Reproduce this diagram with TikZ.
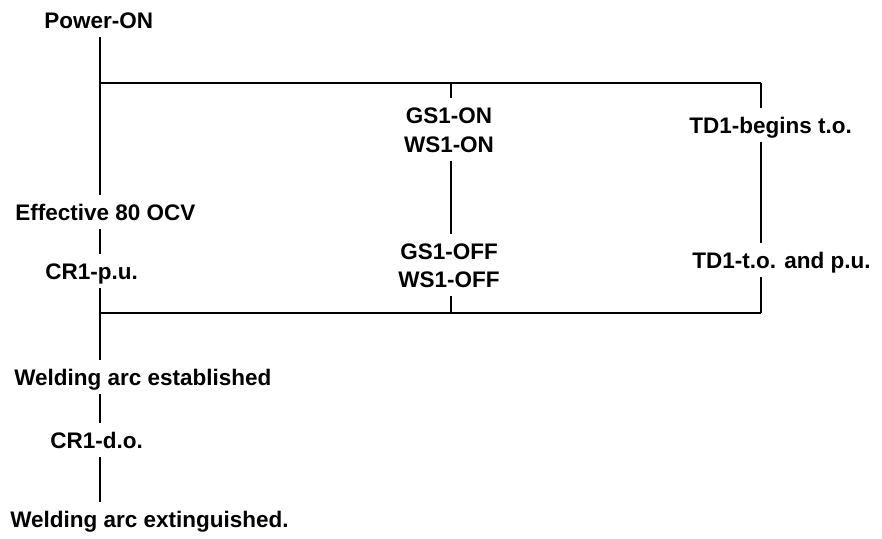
\documentclass[tikz,border=0pt]{standalone}
\usepackage{fontspec}
\setmainfont{Liberation Sans}
\begin{document}
\begin{tikzpicture}[x=0.02cm,y=-0.02cm,
  lbl/.style={font=\fontsize{12.8}{15}\selectfont\bfseries,inner sep=0pt,
    text height=0.5cm,text depth=0.18cm},
  wire/.style={line width=1.2pt}]
 \useasboundingbox (0,0) rectangle (882,538);
 % corners of the frame
 \coordinate (tl) at (100,83);  \coordinate (tr) at (761,83);
 \coordinate (bl) at (100,313); \coordinate (br) at (761,313);
 \coordinate (tm) at (451,83);  \coordinate (bm) at (451,313);
 % left sequence
 \node[lbl,anchor=west] (pwr) at (44,20) {Power-ON};
 \node[lbl,anchor=west] (ocv) at (15,212) {Effective 80 OCV};
 \node[lbl,anchor=west] (crpu) at (45,271) {CR1-p.u.};
 \node[lbl,anchor=west] (arcon) at (14,377) {Welding arc established};
 \node[lbl,anchor=west] (crdo) at (50,440) {CR1-d.o.};
 \node[lbl,anchor=west] (arcoff) at (10,519) {Welding arc extinguished.};
 % middle branch
 \node[lbl] (gson) at (449,115) {GS1-ON};
 \node[lbl] (wson) at (449,144) {WS1-ON};
 \node[lbl] (gsoff) at (449,251) {GS1-OFF};
 \node[lbl] (wsoff) at (449,279) {WS1-OFF};
 % right branch
 \node[lbl,anchor=west] (tdbeg) at (689,125) {TD1-begins t.o.};
 \node[lbl,anchor=west] (tdpu) at (692,260) {TD1-t.o. and p.u.};
 % wiring
 \draw[wire] (pwr.south -| tl) -- (ocv.north -| tl);
 \draw[wire] (ocv.south -| tl) -- (crpu.north -| tl);
 \draw[wire] (crpu.south -| tl) -- (arcon.north -| tl);
 \draw[wire] (arcon.south -| tl) -- (crdo.north -| tl);
 \draw[wire] (crdo.south -| tl) -- (arcoff.north -| tl);
 \draw[wire] (tl) -- (tr);
 \draw[wire] (bl) -- (br);
 \draw[wire] (tm) -- (gson.north -| tm);
 \draw[wire] (wson.south -| tm) -- (gsoff.north -| tm);
 \draw[wire] (wsoff.south -| tm) -- (bm);
 \draw[wire] (tr) -- (tdbeg.north -| tr);
 \draw[wire] (tdbeg.south -| tr) -- (tdpu.north -| tr);
 \draw[wire] (tdpu.south -| tr) -- (br);
\end{tikzpicture}
\end{document}
